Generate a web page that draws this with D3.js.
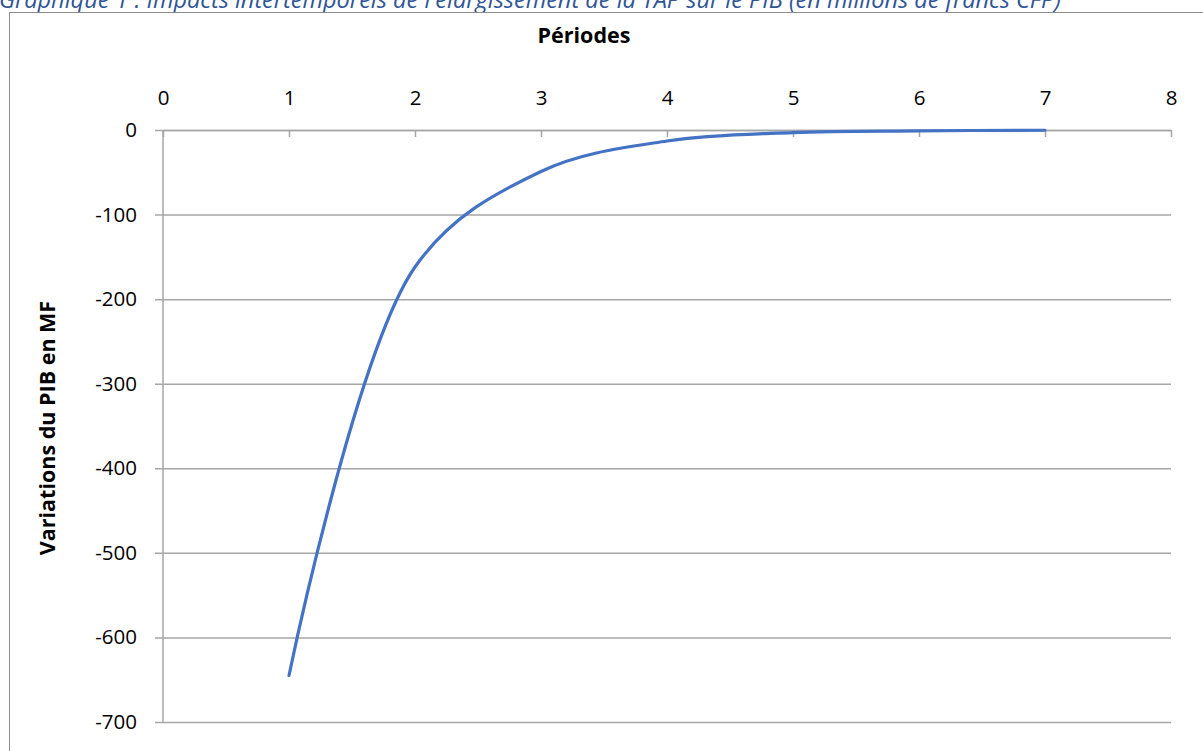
<!DOCTYPE html>
<html>
<head>
<meta charset="utf-8">
<script src="https://cdn.jsdelivr.net/npm/d3@7"></script>
<style>
  html, body { margin: 0; padding: 0; background: #fff; overflow: hidden; }
  svg { display: block; font-family: "Open Sans", Lato, sans-serif; }
</style>
</head>
<body>
<svg id="chart" width="1203" height="751"></svg>
<script>
// Periods after the TAP extension and the resulting change in GDP (millions XPF)
const periods = [1, 2, 3, 4, 5, 6, 7];
const pibChange = [-645, -162, -49, -13, -3, -1, -0.3];

const xTicks = [0, 1, 2, 3, 4, 5, 6, 7, 8];
const yTicks = [0, -100, -200, -300, -400, -500, -600, -700];

const titleText = "Graphique 1 : Impacts intertemporels de l'élargissement de la TAP sur le PIB (en millions de francs CFP)";
const xTitle = "Périodes";
const yTitle = "Variations du PIB en MF";

const svg = d3.select("#chart");
const W = 1203, H = 751;
const plot = { left: 163, right: 1171, top: 130, bottom: 722 };
const fmt = d => String(d); // plain hyphen-minus labels

// Caption above the chart frame
svg.append("text")
  .attr("x", -1).attr("y", 8)
  .attr("fill", "#2F5597")
  .attr("font-style", "italic")
  .attr("font-size", 23.5)
  .text(titleText);

// Chart frame
svg.append("rect")
  .attr("x", 9.5).attr("y", 12.5)
  .attr("width", W).attr("height", H)
  .attr("fill", "#fff")
  .attr("stroke", "#8c8c8c")
  .attr("stroke-width", 1);

const x = d3.scaleLinear().domain([0, 8]).range([plot.left, plot.right]);
const y = d3.scaleLinear().domain([-700, 0]).range([plot.bottom, plot.top]);

// Horizontal gridlines with outward ticks on the left
const yAxis = d3.axisLeft(y)
  .tickValues(yTicks)
  .tickSize(-(plot.right - plot.left))
  .tickSizeOuter(0)
  .tickFormat(fmt)
  .tickPadding(26);

const gy = svg.append("g")
  .attr("transform", `translate(${plot.left},0)`)
  .call(yAxis);
gy.select(".domain").remove();
gy.selectAll(".tick line")
  .attr("x1", -8)
  .attr("stroke", "#a6a6a6")
  .attr("stroke-width", 1.5);
gy.selectAll(".tick text")
  .attr("font-size", 20.5)
  .attr("fill", "#000")
  .attr("font-family", "'Open Sans', Lato, sans-serif");

// Vertical axis line
svg.append("line")
  .attr("x1", plot.left).attr("x2", plot.left)
  .attr("y1", plot.top).attr("y2", plot.bottom)
  .attr("stroke", "#a6a6a6")
  .attr("stroke-width", 1.5);

// Period axis along the zero line, labels above, ticks pointing down
const xAxis = d3.axisTop(x)
  .tickValues(xTicks)
  .tickSize(-7)
  .tickSizeOuter(0)
  .tickPadding(25)
  .tickFormat(fmt);

const gx = svg.append("g")
  .attr("transform", `translate(0,${y(0)})`)
  .call(xAxis);
gx.select(".domain")
  .attr("stroke", "#a6a6a6")
  .attr("stroke-width", 1.5);
gx.selectAll(".tick line")
  .attr("stroke", "#a6a6a6")
  .attr("stroke-width", 1.5);
gx.selectAll(".tick text")
  .attr("font-size", 20.5)
  .attr("fill", "#000")
  .attr("font-family", "'Open Sans', Lato, sans-serif");

// Axis titles
svg.append("text")
  .attr("x", 584)
  .attr("y", 35)
  .attr("dy", "0.35em")
  .attr("text-anchor", "middle")
  .attr("font-weight", "bold")
  .attr("font-size", 21.5)
  .text(xTitle);

svg.append("text")
  .attr("transform", `translate(47,${(plot.top + plot.bottom) / 2 + 2}) rotate(-90)`)
  .attr("dy", "0.35em")
  .attr("text-anchor", "middle")
  .attr("font-weight", "bold")
  .attr("font-size", 21.5)
  .text(yTitle);

// Smoothed series line
const line = d3.line()
  .x((d, i) => x(periods[i]))
  .y(d => y(d))
  .curve(d3.curveCatmullRom.alpha(0.5));

svg.append("path")
  .datum(pibChange)
  .attr("d", line)
  .attr("fill", "none")
  .attr("stroke", "#4472C4")
  .attr("stroke-width", 3.2)
  .attr("stroke-linecap", "round")
  .attr("stroke-linejoin", "round");
</script>
</body>
</html>
